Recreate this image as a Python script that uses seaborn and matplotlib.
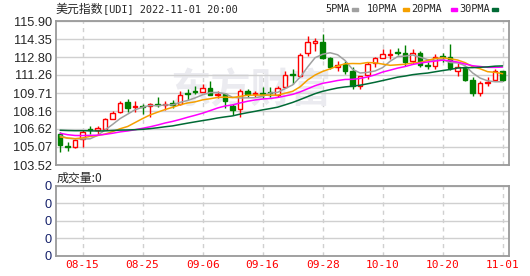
import matplotlib
matplotlib.use('Agg')
import matplotlib.pyplot as plt
import seaborn as sns
import pandas as pd

# trading days shown on the chart
dates = ['08-10', '08-11', '08-12', '08-15', '08-16', '08-17', '08-18', '08-19', '08-22', '08-23',
         '08-24', '08-25', '08-26', '08-29', '08-30', '08-31', '09-01', '09-02', '09-05', '09-06',
         '09-07', '09-08', '09-09', '09-12', '09-13', '09-14', '09-15', '09-16', '09-19', '09-20',
         '09-21', '09-22', '09-23', '09-26', '09-27', '09-28', '09-29', '09-30', '10-03', '10-04',
         '10-05', '10-06', '10-07', '10-10', '10-11', '10-12', '10-13', '10-14', '10-17', '10-18',
         '10-19', '10-20', '10-21', '10-24', '10-25', '10-26', '10-27', '10-28', '10-31', '11-01']
tick_dates = ['08-15', '08-25', '09-06', '09-16', '09-28', '10-10', '10-20', '11-01']

open_ = [106.22, 105.18, 105.07, 105.75, 106.62, 106.50, 106.65, 107.50, 108.07, 108.92,
         108.50, 108.60, 108.55, 108.80, 108.72, 108.87, 108.78, 109.70, 109.90, 109.83,
         110.15, 109.50, 109.64, 108.58, 108.36, 109.92, 109.60, 109.72, 109.80, 109.50,
         110.20, 111.35, 111.20, 113.14, 114.05, 114.11, 112.68, 111.91, 112.20, 111.57,
         110.29, 111.29, 112.29, 112.76, 113.00, 113.25, 113.19, 112.42, 113.14, 112.15,
         112.05, 112.90, 112.82, 111.57, 111.97, 110.83, 109.72, 110.60, 110.83, 111.57]
high = [106.36, 105.47, 105.72, 106.50, 106.87, 106.87, 107.59, 108.20, 109.06, 109.20,
        109.06, 108.78, 108.87, 109.35, 109.06, 109.10, 109.92, 110.06, 110.35, 110.49,
        110.77, 109.90, 109.70, 108.78, 110.06, 110.09, 109.92, 110.26, 110.20, 110.35,
        111.63, 111.77, 113.14, 114.62, 114.47, 114.76, 112.80, 112.48, 112.48, 111.91,
        111.20, 112.34, 112.82, 113.48, 113.48, 113.60, 113.85, 113.48, 113.28, 112.34,
        113.05, 113.19, 113.96, 112.29, 112.00, 111.06, 110.77, 111.06, 111.77, 111.63]
low = [104.65, 104.73, 105.00, 105.07, 106.22, 106.10, 106.60, 107.45, 108.00, 108.07,
       108.07, 107.93, 107.64, 108.50, 108.27, 108.40, 108.70, 109.12, 109.66, 109.78,
       109.50, 109.30, 108.38, 107.78, 107.64, 109.40, 109.35, 109.30, 109.40, 109.35,
       110.10, 110.49, 111.10, 112.91, 113.34, 112.60, 111.80, 111.57, 111.35, 110.06,
       110.06, 110.92, 111.91, 112.68, 112.63, 113.00, 112.05, 112.20, 111.91, 111.77,
       111.77, 112.34, 111.71, 111.20, 110.77, 109.49, 109.49, 110.35, 110.77, 110.77]
close = [105.22, 105.08, 105.65, 106.36, 106.55, 106.70, 107.44, 108.00, 108.87, 108.44,
         108.62, 108.50, 108.78, 108.72, 108.80, 108.64, 109.58, 109.60, 109.82, 110.15,
         109.58, 109.64, 109.06, 108.27, 109.86, 109.64, 109.68, 109.64, 109.72, 110.15,
         111.26, 111.25, 112.97, 114.11, 114.15, 112.71, 111.91, 112.11, 111.63, 110.35,
         111.14, 112.20, 112.71, 113.05, 113.10, 113.15, 112.40, 113.19, 112.11, 112.05,
         112.82, 112.80, 111.86, 111.97, 110.83, 109.72, 110.58, 110.68, 111.57, 110.83]
# closes before the visible window (needed for the moving averages)
prior_close = [105.8, 106.1, 106.3, 106.9, 107.2, 107.1, 107.0, 107.9, 108.1, 107.8,
               107.6, 107.0, 106.5, 106.2, 106.4, 106.0, 106.1, 106.5, 106.9, 106.5,
               106.0, 106.2, 105.7, 105.3, 105.9, 106.2, 105.9, 106.4, 106.5]

y_ticks = [103.52, 105.07, 106.62, 108.16, 109.71, 111.26, 112.80, 114.35, 115.90]
ma_windows = [5, 10, 20, 30]
ma_colors = ['#a0a0a0', '#f5a000', '#ff00ff', '#006a35']

UP = '#ff0000'
DOWN = '#008000'
GRID = '#d0d0d0'
FRAME = '#9a9a9a'

W, H = 530, 276

sns.set_style('white')
plt.rcParams['font.family'] = ['Liberation Sans', 'DejaVu Sans']

df = pd.DataFrame({'date': dates, 'open': open_, 'high': high, 'low': low, 'close': close})
df['idx'] = range(len(df))
all_close = pd.Series(prior_close + close)
for w in ma_windows:
    df['MA%d' % w] = all_close.rolling(w).mean().iloc[len(prior_close):].values

fig = plt.figure(figsize=(W / 100, H / 100), dpi=100)


def px_axes(left, top, right, bottom):
    return fig.add_axes([left / W, 1 - bottom / H, (right - left) / W, (bottom - top) / H])


ax = px_axes(56, 21, 509, 165)
axv = px_axes(56, 186, 509, 255.5)

tick_idx = [dates.index(d) for d in tick_dates]

for a in (ax, axv):
    a.set_xlim(-0.55, len(dates) - 0.15)
    a.set_xticks(tick_idx)
    for t in tick_idx:
        a.axvline(t, color=GRID, linewidth=1, linestyle=(0, (3, 3)), zorder=0)
    for s in a.spines.values():
        s.set_color(FRAME)
        s.set_linewidth(1.3)
    a.tick_params(length=0)

# watermark
ax.text(25.5, 109.9, '东方财富', fontsize=29, fontweight='bold', color='#ebebf0',
        ha='center', va='center', family=['Noto Sans CJK SC'], zorder=0)

# candles
up = df[df['close'] >= df['open']]
dn = df[df['close'] < df['open']]
ax.vlines(up['idx'], up['low'], up['high'], color=UP, linewidth=1, zorder=2)
ax.vlines(dn['idx'], dn['low'], dn['high'], color=DOWN, linewidth=1, zorder=2)
ax.bar(up['idx'], (up['close'] - up['open']).clip(lower=0.03), bottom=up['open'], width=0.62,
       facecolor='white', edgecolor=UP, linewidth=1, zorder=2.5)
ax.bar(dn['idx'], (dn['close'] - dn['open']).abs().clip(lower=0.03), bottom=dn['close'], width=0.62,
       facecolor=DOWN, edgecolor=DOWN, linewidth=1, zorder=2.5)

# moving averages
for w, c in zip(ma_windows, ma_colors):
    sns.lineplot(data=df, x='idx', y='MA%d' % w, ax=ax, color=c, linewidth=1.1, zorder=3)

ax.set_ylim(y_ticks[0], y_ticks[-1])
ax.set_yticks(y_ticks)
ax.set_yticklabels(['%.2f' % v for v in y_ticks], fontsize=9.2)
ax.yaxis.grid(True, color=GRID, linewidth=1)
ax.set_xticklabels([])
ax.set_xlabel('')
ax.set_ylabel('')
ax.tick_params(axis='y', pad=3)

# volume panel (no volume for an index)
axv.set_ylim(0, 1)
axv.set_yticks([0, 0.25, 0.5, 0.75, 1])
axv.set_yticklabels(['0'] * 5, fontsize=9.2, color='#14206a')
axv.yaxis.grid(True, color=GRID, linewidth=1)
axv.set_xticklabels(tick_dates, fontsize=8, color='red', family=['DejaVu Sans Mono'])
axv.tick_params(axis='x', pad=3)
axv.tick_params(axis='y', pad=3)


def ftext(x, y, s, **kw):
    fig.text(x / W, 1 - y / H, s, va='center', **kw)


ftext(55, 9.5, '美元指数', fontsize=8.6, family=['Noto Sans CJK SC'])
ftext(103, 9.5, '[UDI] 2022-11-01 20:00', fontsize=7.4, family=['DejaVu Sans Mono'])
ftext(57, 178, '成交量:0', fontsize=8.6, family=['Noto Sans CJK SC', 'DejaVu Sans'])

legend_items = [('5PMA', 325, 352), ('10PMA', 367, 403), ('20PMA', 411, 451), ('30PMA', 459, 491.5)]
for (lab, tx, sx), c in zip(legend_items, ma_colors):
    ftext(tx, 9.5, lab, fontsize=7.4, family=['DejaVu Sans Mono'])
    fig.patches.append(plt.Rectangle((sx / W, 1 - 11 / H), 6 / W, 3 / H, color=c,
                                     transform=fig.transFigure, figure=fig))

fig.savefig('out.png', dpi=100)
